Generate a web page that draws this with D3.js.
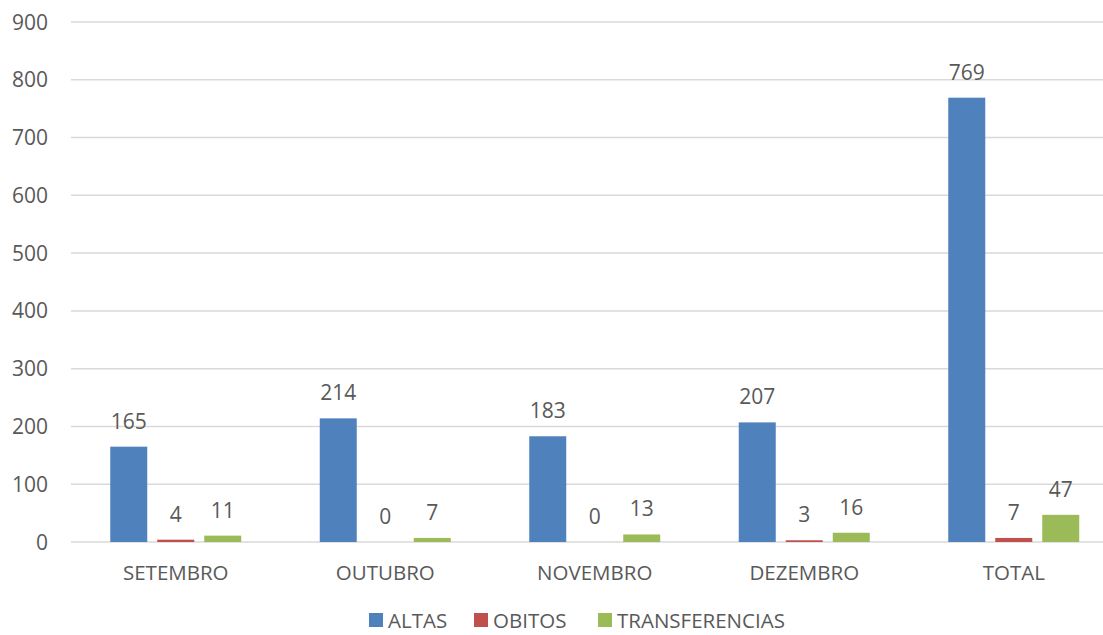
<!DOCTYPE html>
<html>
<head>
<meta charset="utf-8">
<script src="https://d3js.org/d3.v7.min.js"></script>
<style>
  body { margin: 0; background: #fff; }
  svg text { font-family: "Open Sans", sans-serif; fill: #595959; }
</style>
</head>
<body>
<svg id="chart" width="1103" height="635"></svg>
<script>
// data
const categories = ["SETEMBRO", "OUTUBRO", "NOVEMBRO", "DEZEMBRO", "TOTAL"];
const seriesNames = ["ALTAS", "OBITOS", "TRANSFERENCIAS"];
const altas = [165, 214, 183, 207, 769];
const obitos = [4, 0, 0, 3, 7];
const transferencias = [11, 7, 13, 16, 47];
const yTicks = [0, 100, 200, 300, 400, 500, 600, 700, 800, 900];

const colors = ["#4f81bd", "#c0504d", "#9bbb59"];
const seriesValues = [altas, obitos, transferencias];

const svg = d3.select("#chart");

// plot box (right side runs past the picture edge, as in the reference)
const plotLeft = 71, plotRight = 1118.5, plotTop = 22, plotBottom = 542;

const x = d3.scaleBand()
  .domain(categories)
  .range([plotLeft, plotRight])
  .paddingInner(0.3747)
  .paddingOuter(0.3747 / 2);

const xs = d3.scaleBand()
  .domain(seriesNames)
  .range([0, x.bandwidth()])
  .paddingInner(10 / 47)
  .paddingOuter(0);

const y = d3.scaleLinear().domain([0, 900]).range([plotBottom, plotTop]);

// gridlines
svg.append("g")
  .selectAll("line")
  .data(yTicks)
  .join("line")
    .attr("x1", plotLeft)
    .attr("x2", plotRight)
    .attr("y1", d => y(d))
    .attr("y2", d => y(d))
    .attr("stroke", "#d9d9d9")
    .attr("stroke-width", 1.5);

// y tick labels
svg.append("g")
  .selectAll("text")
  .data(yTicks)
  .join("text")
    .attr("x", 48)
    .attr("y", d => y(d))
    .attr("dy", "0.36em")
    .attr("text-anchor", "end")
    .attr("font-size", 21)
    .text(d => d);

// bars
const rows = [];
categories.forEach((c, i) => {
  seriesNames.forEach((s, j) => {
    rows.push({ cat: c, series: s, value: seriesValues[j][i], color: colors[j] });
  });
});

const groups = svg.append("g");

groups.selectAll("rect")
  .data(rows)
  .join("rect")
    .attr("x", d => x(d.cat) + xs(d.series))
    .attr("y", d => y(d.value))
    .attr("width", xs.bandwidth())
    .attr("height", d => y(0) - y(d.value))
    .attr("fill", d => d.color);

groups.selectAll("text")
  .data(rows)
  .join("text")
    .attr("x", d => x(d.cat) + xs(d.series) + xs.bandwidth() / 2)
    .attr("y", d => y(d.value) - 18)
    .attr("text-anchor", "middle")
    .attr("font-size", 21)
    .text(d => d.value);

// category labels
svg.append("g")
  .selectAll("text")
  .data(categories)
  .join("text")
    .attr("x", d => x(d) + x.bandwidth() / 2)
    .attr("y", 580)
    .attr("text-anchor", "middle")
    .attr("font-size", 20.5)
    .text(d => d);

// legend
const legendX = [369, 474, 598];
const legend = svg.append("g")
  .selectAll("g")
  .data(seriesNames)
  .join("g")
    .attr("transform", (d, i) => "translate(" + legendX[i] + ",613)");

legend.append("rect")
  .attr("width", 14)
  .attr("height", 14)
  .attr("fill", (d, i) => colors[i]);

legend.append("text")
  .attr("x", 19)
  .attr("y", 15)
  .attr("font-size", 20.5)
  .text(d => d);
</script>
</body>
</html>
